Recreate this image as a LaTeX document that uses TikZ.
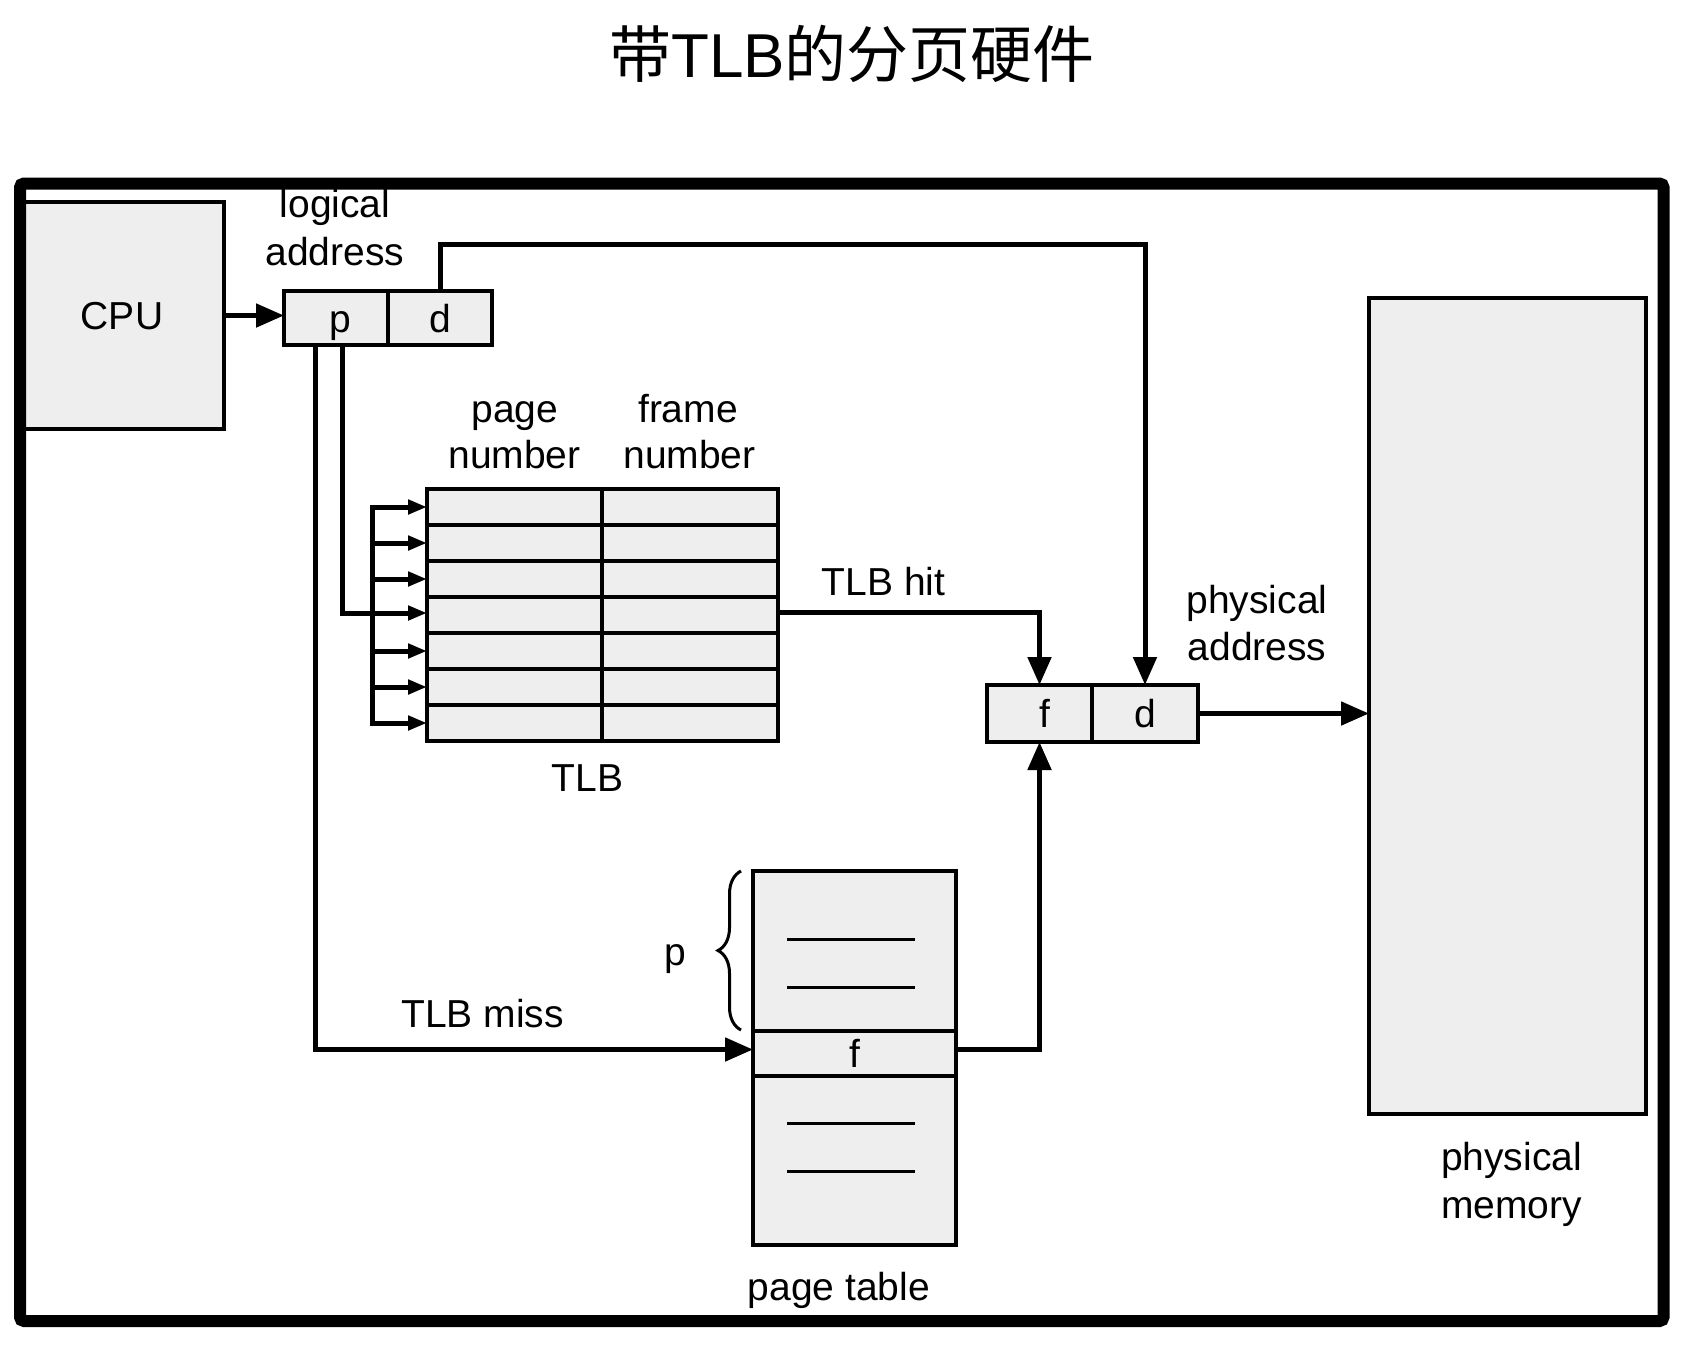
\documentclass[tikz,border=0pt]{standalone}
\usepackage{fontspec}
\setmainfont{Liberation Sans}
\newfontfamily\cjk{Noto Sans CJK SC}
\usetikzlibrary{arrows.meta,decorations.pathreplacing,calc}
\definecolor{boxgray}{HTML}{EEEEEE}
\begin{document}
\begin{tikzpicture}[x=1pt,y=-1pt,
  box/.style={draw, line width=3.2pt, fill=boxgray, inner sep=0pt, outer sep=0pt, anchor=north west,
    font=\fontsize{39}{48}\selectfont, text height=28pt, text depth=0pt},
  conn/.style={line width=5pt, -{Triangle[length=28pt,width=23pt]}},
  smallconn/.style={line width=5pt, -{Triangle[length=19pt,width=14pt]}},
  lbl/.style={font=\fontsize{39}{48}\selectfont, inner sep=0pt, anchor=base},
  ptline/.style={line width=3pt}]
\useasboundingbox (0,0) rectangle (1697,1350);
\fill[white] (0,0) rectangle (1697,1350);

% title
\node[lbl, font=\fontsize{62}{70}\selectfont] (title) at (852,77) {{\cjk 带}TLB{\cjk 的分页硬件}};

% CPU and logical address
\node[box, minimum width=204pt, minimum height=227pt] (cpu) at (20,202) {CPU};
\node[box, minimum width=104pt, minimum height=54pt] (lp) at (284,291) {\hspace*{8pt}p};
\node[box, minimum width=104pt, minimum height=54pt] (ld) at (388,291) {d};
\node[lbl] (tlog1) at (335,217) {logical};
\node[lbl] (tlog2) at (335,265) {address};

% TLB
\foreach \i in {1,...,7}{
  \node[box, minimum width=175pt, minimum height=36pt] (tp\i) at (427,{489+36*(\i-1)}) {};
  \node[box, minimum width=176pt, minimum height=36pt] (tf\i) at (602,{489+36*(\i-1)}) {};
}
\node[lbl] (tpn1) at (515,422) {page};
\node[lbl] (tpn2) at (514.5,468) {number};
\node[lbl] (tfn1) at (688,422) {frame};
\node[lbl] (tfn2) at (689.5,468) {number};
\node[lbl] (ttlb) at (587.5,791) {TLB};

% physical address
\node[box, minimum width=105pt, minimum height=57pt] (fdf) at (987,685) {\hspace*{10pt}f};
\node[box, minimum width=106pt, minimum height=57pt] (fdd) at (1092,685) {d};
\node[lbl] (tpa1) at (1257,613) {physical};
\node[lbl] (tpa2) at (1257,660) {address};

% physical memory
\node[box, minimum width=277pt, minimum height=816pt] (pm) at (1369,298) {};
\node[lbl] (tpm1) at (1511.5,1170) {physical};
\node[lbl] (tpm2) at (1511.5,1218) {memory};

% page table
\node[box, minimum width=203pt, minimum height=160pt] (pttop) at (753,871) {};
\node[box, minimum width=203pt, minimum height=45pt] (ptf) at (753,1031) {f};
\node[box, minimum width=203pt, minimum height=169pt] (ptbot) at (753,1076) {};
\draw[ptline] (787,939) -- (915,939);
\draw[ptline] (787,987) -- (915,987);
\draw[ptline] (787,1123) -- (915,1123);
\draw[ptline] (787,1171) -- (915,1171);
\draw[line width=3pt, decorate, decoration={brace, amplitude=23pt}] (741,1030) -- (741,871);
\node[lbl] (tp) at (675,965) {p};
\node[lbl] (tpt) at (839,1300) {page table};
\node[lbl] (thit) at (883.5,595) {TLB hit};
\node[lbl] (tmiss) at (482.5,1027) {TLB miss};

% connectors
\draw[conn] (cpu.east) -- (cpu.east -| lp.west);
\draw[conn] (ld.north) -- (ld.north |- 0,244) -| (fdd.north);
\draw[line width=5pt, line cap=rect] ([xshift=-55pt]tp1.west) -- ([xshift=-55pt]tp7.west);
\foreach \i in {1,2,3,5,6,7}{
  \draw[smallconn] ([xshift=-55pt]tp\i.west) -- (tp\i.west);
}
\draw[smallconn] ([xshift=6pt]lp.south) |- ([yshift=2pt]tp4.west);
\draw[conn] ([xshift=-21pt]lp.south) |- ([yshift=4pt]ptf.west);
\draw[conn] ([yshift=3pt]tf4.east) -| (fdf.north);
\draw[conn] ([yshift=4pt]ptf.east) -| (fdf.south);
\draw[conn] (fdd.east) -- (fdd.east -| pm.west);

% frame
\draw[line width=12pt, rounded corners=4pt] (20,183.5) rectangle (1663.5,1321);
\end{tikzpicture}
\end{document}
